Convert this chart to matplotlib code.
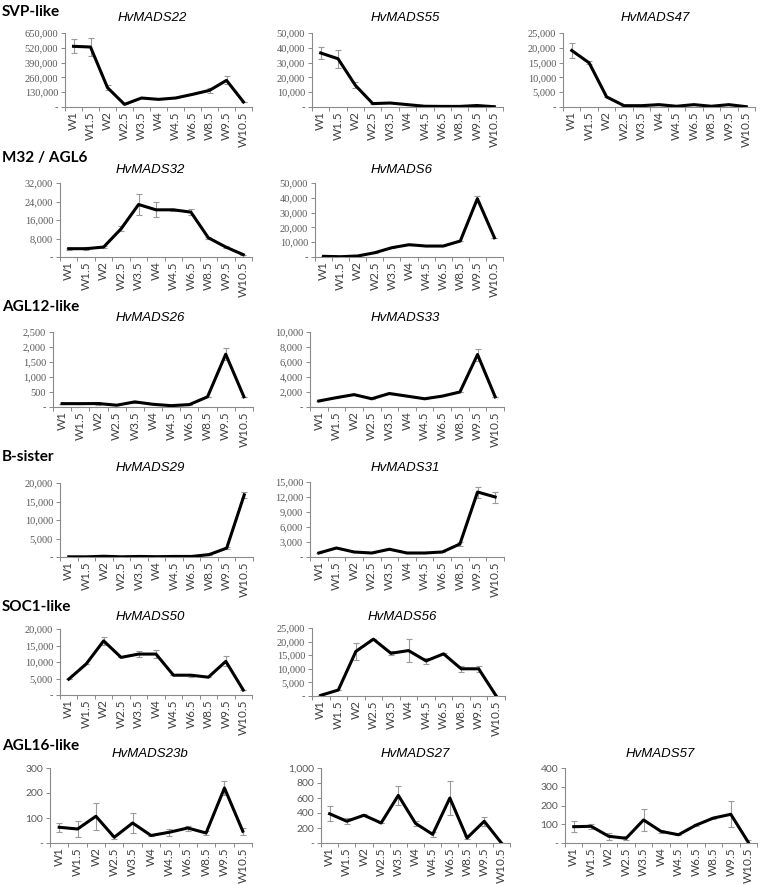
import numpy as np
import matplotlib.pyplot as plt
from matplotlib.ticker import FuncFormatter, MultipleLocator, FixedLocator

weeks = ["W1", "W1.5", "W2", "W2.5", "W3.5", "W4", "W4.5", "W6.5", "W8.5", "W9.5", "W10.5"]

# expression means and error bars
mads22 = [533000, 527000, 170000, 23000, 79000, 67000, 79000, 111000, 146000, 234000, 44000]
mads22_err = [60000, 75000, 20000, 0, 0, 0, 0, 0, 20000, 35000, 0]
mads55 = [36500, 32600, 14600, 2300, 2700, 1600, 500, 400, 400, 1000, 200]
mads55_err = [4000, 6000, 2000, 0, 0, 0, 0, 0, 0, 0, 0]
mads47 = [19100, 14900, 3400, 450, 450, 800, 250, 800, 250, 800, 100]
mads47_err = [2400, 500, 0, 0, 0, 0, 0, 0, 0, 0, 0]

mads32 = [3600, 3600, 4300, 12200, 22700, 20400, 20400, 19400, 8300, 4300, 1000]
mads32_err = [500, 600, 300, 1000, 4400, 3200, 500, 1300, 300, 300, 0]
mads6 = [450, 200, 700, 2900, 6300, 8300, 7400, 7400, 10800, 39400, 13000]
mads6_err = [0, 0, 0, 0, 0, 0, 0, 0, 0, 2000, 0]

mads26 = [112, 112, 115, 60, 170, 90, 45, 80, 340, 1760, 340]
mads26_err = [0, 0, 40, 0, 30, 0, 0, 0, 0, 200, 0]
mads33 = [800, 1250, 1650, 1100, 1800, 1450, 1100, 1450, 2000, 7000, 1350]
mads33_err = [0, 0, 0, 0, 0, 0, 0, 0, 0, 800, 0]

mads29 = [50, 50, 200, 50, 150, 80, 150, 150, 650, 2400, 16800]
mads29_err = [0, 0, 0, 0, 0, 0, 0, 0, 0, 300, 800]
mads31 = [800, 1800, 1000, 800, 1550, 800, 800, 1000, 2600, 13000, 12000]
mads31_err = [0, 0, 0, 0, 0, 0, 0, 0, 400, 1100, 1100]

mads50 = [4800, 9400, 16400, 11400, 12400, 12400, 6000, 6000, 5400, 10200, 1500]
mads50_err = [0, 0, 1100, 0, 1000, 1200, 0, 400, 0, 1500, 0]
mads56 = [250, 2200, 16400, 20900, 15700, 16700, 12900, 15500, 10000, 10000, 0]
mads56_err = [0, 0, 3000, 0, 800, 4200, 1200, 400, 1200, 1000, 0]

mads23b = [63, 56, 107, 23, 80, 30, 43, 60, 40, 220, 47]
mads23b_err = [17, 32, 55, 5, 40, 0, 15, 10, 8, 28, 15]
mads27 = [390, 290, 370, 267, 635, 262, 115, 600, 67, 290, 0]
mads27_err = [100, 40, 15, 0, 130, 35, 35, 230, 20, 60, 0]
mads57 = [87, 89, 36, 25, 123, 62, 44, 95, 133, 153, 4]
mads57_err = [30, 15, 20, 10, 60, 10, 0, 5, 5, 70, 10]

groups = ["SVP-like", "M32 / AGL6", "AGL12-like", "B-sister", "SOC1-like", "AGL16-like"]
group_y = [12, 158, 307, 457, 607, 746]

# (title, values, errors, ymax, ystep, box in px: left, right, top, bottom, title x, title y)
panels = [
    ("HvMADS22", mads22, mads22_err, 650000, 130000, (65, 252, 33, 107), 152, 18),
    ("HvMADS55", mads55, mads55_err, 50000, 10000, (312, 503, 33, 107), 405, 18),
    ("HvMADS47", mads47, mads47_err, 25000, 5000, (563, 755, 33, 107), 655, 18),
    ("HvMADS32", mads32, mads32_err, 32000, 8000, (60, 252, 183, 257), 150, 170),
    ("HvMADS6", mads6, mads6_err, 50000, 10000, (315, 503, 183, 257), 402, 170),
    ("HvMADS26", mads26, mads26_err, 2500, 500, (53, 253, 332, 407), 150, 318),
    ("HvMADS33", mads33, mads33_err, 10000, 2000, (310, 504, 332, 407), 405, 318),
    ("HvMADS29", mads29, mads29_err, 20000, 5000, (60, 253, 483, 557), 150, 468),
    ("HvMADS31", mads31, mads31_err, 15000, 3000, (310, 504, 482, 557), 405, 468),
    ("HvMADS50", mads50, mads50_err, 20000, 5000, (60, 252, 629, 695), 150, 617),
    ("HvMADS56", mads56, mads56_err, 25000, 5000, (312, 505, 628, 696), 402, 617),
    ("HvMADS23b", mads23b, mads23b_err, 300, 100, (50, 252, 768, 843), 150, 754),
    ("HvMADS27", mads27, mads27_err, 1000, 200, (321, 510, 768, 843), 415, 754),
    ("HvMADS57", mads57, mads57_err, 400, 100, (565, 757, 768, 843), 660, 754),
]

W, H = 767, 885
fig = plt.figure(figsize=(W / 100, H / 100), dpi=100)

axis_grey = "#8a8a8a"
label_grey = "#595959"


def fmt(v, pos):
    if v == 0:
        return "-"
    return "{:,.0f}".format(v)


for title, vals, errs, ymax, ystep, box, tx, ty in panels:
    l, r, t, b = box
    ax = fig.add_axes([l / W, 1 - b / H, (r - l) / W, (b - t) / H])
    x = np.arange(len(weeks))
    ax.errorbar(x, vals, yerr=errs, color="black", lw=2.2, ecolor="#9a9a9a",
                elinewidth=0.8, capsize=2, capthick=0.8, zorder=3)
    ax.set_xlim(-0.5, len(weeks) - 0.5)
    ax.set_ylim(0, ymax)
    ax.yaxis.set_major_locator(MultipleLocator(ystep))
    ax.yaxis.set_major_formatter(FuncFormatter(fmt))
    ax.set_xticks(x)
    ax.set_xticklabels(weeks, rotation=90, fontsize=8.5, color="#404040",
                       family="Lato")
    ax.xaxis.set_minor_locator(FixedLocator(np.arange(-0.5, len(weeks), 1.0)))
    ax.tick_params(axis="x", which="major", length=0, pad=3)
    ax.tick_params(axis="x", which="minor", length=3, width=0.7, color=axis_grey)
    ax.tick_params(axis="y", length=3, width=0.7, color=axis_grey,
                   labelsize=7.5, labelcolor=label_grey, pad=2)
    yfam = "Lato" if ymax <= 1000 else "Liberation Serif"
    for lab in ax.get_yticklabels():
        lab.set_family(yfam)
    for s in ["top", "right"]:
        ax.spines[s].set_visible(False)
    for s in ["left", "bottom"]:
        ax.spines[s].set_color(axis_grey)
        ax.spines[s].set_linewidth(0.8)
    ax.patch.set_alpha(0)
    fig.text(tx / W, 1 - ty / H, title, ha="center", va="center",
             fontsize=9.5, style="italic", family="Liberation Sans")

for g, gy in zip(groups, group_y):
    fig.text(2 / W, 1 - gy / H, g, ha="left", va="center", fontsize=11,
             weight="bold", family="Lato")

fig.savefig("out.png", dpi=100)
